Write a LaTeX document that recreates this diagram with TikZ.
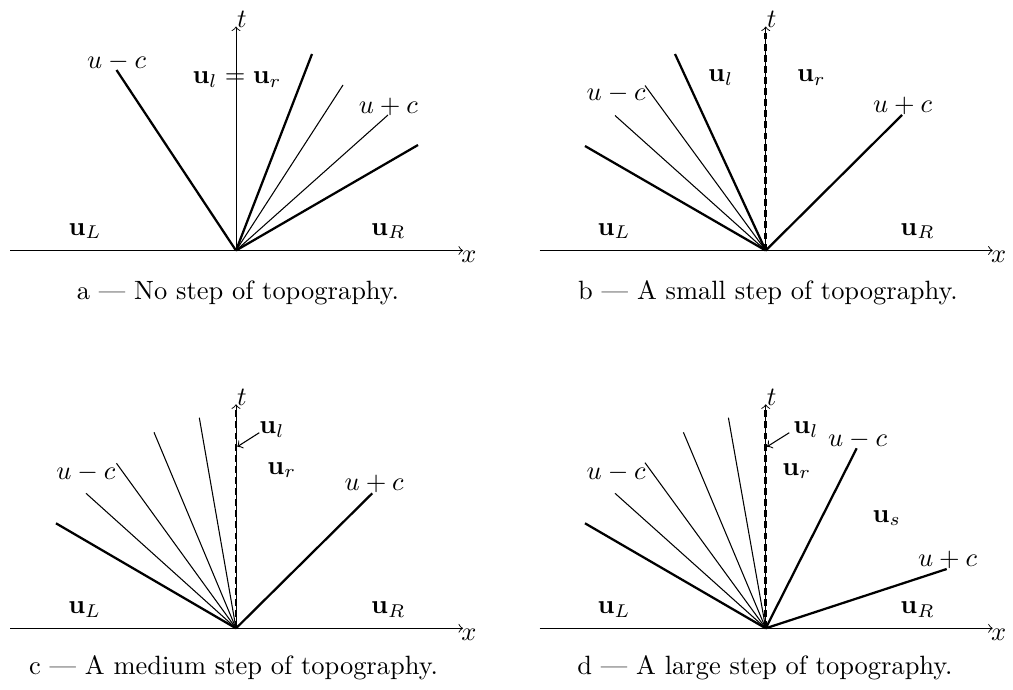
\documentclass[tikz,border=0pt]{standalone}
\usepackage{amsmath}
\begin{document}
\begin{tikzpicture}[x=0.378pt,y=-0.378pt,
  axis/.style={line width=0.35pt,->},
  wave/.style={line width=0.85pt},
  fan/.style={line width=0.4pt},
  contact/.style={line width=1.1pt,dash pattern=on 2.6pt off 1.6pt},
  lab/.style={anchor=base,inner sep=0pt},
  ptr/.style={line width=0.4pt,->}]
\useasboundingbox (0,0) rectangle (1013,690);

% ---------------- panel a ----------------
\begin{scope}[shift={(236,250.5)}]
  \coordinate (aO) at (0,0);
  \coordinate (aXl) at (-226,0); \coordinate (aXr) at (227,0);
  \coordinate (aT) at (0,-224);
  \draw[axis] (aXl) -- (aXr);
  \draw[axis] (aO) -- (aT);
  \coordinate (aE1) at (-119.5,-180.5);
  \coordinate (aE2) at (76,-196.5);
  \coordinate (aE3) at (107,-165.5);
  \coordinate (aE4) at (152,-135.5);
  \coordinate (aE5) at (182,-105.5);
  \draw[wave] (aO) -- (aE1);
  \draw[wave] (aO) -- (aE2);
  \draw[fan] (aO) -- (aE3);
  \draw[fan] (aO) -- (aE4);
  \draw[wave] (aO) -- (aE5);
  \node[lab] (at) at (6,-223) {$t$};
  \node[lab] (ax) at (233,12) {$x$};
\end{scope}
\node[lab] (auc) at (116.5,68.3) {$u-c$};
\node[lab] (aulr) at (237,83.3) {$\mathbf{u}_l=\mathbf{u}_r$};
\node[lab] (aupc) at (388.3,113.3) {$u+c$};
\node[lab] (auL) at (85,235) {$\mathbf{u}_L$};
\node[lab] (auR) at (388.3,235) {$\mathbf{u}_R$};
\node[lab] (acap) at (238,299.3) {a --- No step of topography.};

% ---------------- panel b ----------------
\begin{scope}[shift={(765.7,250.5)}]
  \coordinate (bO) at (0,0);
  \coordinate (bXl) at (-226,0); \coordinate (bXr) at (227,0);
  \coordinate (bT) at (0,-224); \coordinate (bD) at (0,-218);
  \draw[axis] (bXl) -- (bXr);
  \draw[axis] (bO) -- (bT);
  \draw[contact] (bO) -- (bD);
  \coordinate (bE1) at (-180.7,-104.5);
  \coordinate (bE2) at (-150.7,-135);
  \coordinate (bE3) at (-120.7,-165);
  \coordinate (bE4) at (-90.7,-196.5);
  \coordinate (bE5) at (136.3,-135.5);
  \draw[wave] (bO) -- (bE1);
  \draw[fan] (bO) -- (bE2);
  \draw[fan] (bO) -- (bE3);
  \draw[wave] (bO) -- (bE4);
  \draw[wave] (bO) -- (bE5);
  \node[lab] (bt) at (6,-223) {$t$};
  \node[lab] (bx) at (233,12) {$x$};
\end{scope}
\node[lab] (buc) at (616.2,100.7) {$u-c$};
\node[lab] (bul) at (720.7,81.7) {$\mathbf{u}_l$};
\node[lab] (bur) at (811.3,81.7) {$\mathbf{u}_r$};
\node[lab] (bupc) at (902.5,112.7) {$u+c$};
\node[lab] (buL) at (614,235) {$\mathbf{u}_L$};
\node[lab] (buR) at (917.5,235) {$\mathbf{u}_R$};
\node[lab] (bcap) at (768,299.3) {b --- A small step of topography.};

% ---------------- panel c ----------------
\begin{scope}[shift={(236,628.3)}]
  \coordinate (cO) at (0,0);
  \coordinate (cXl) at (-226,0); \coordinate (cXr) at (227,0);
  \coordinate (cT) at (0,-224); \coordinate (cD) at (0,-218);
  \draw[axis] (cXl) -- (cXr);
  \draw[axis] (cO) -- (cT);
  \draw[contact] (cO) -- (cD);
  \coordinate (cE1) at (-180,-105);
  \coordinate (cE2) at (-150,-135);
  \coordinate (cE3) at (-119.5,-165);
  \coordinate (cE4) at (-82,-196);
  \coordinate (cE5) at (-36.7,-210.6);
  \coordinate (cE6) at (136.3,-135);
  \draw[wave] (cO) -- (cE1);
  \draw[fan] (cO) -- (cE2);
  \draw[fan] (cO) -- (cE3);
  \draw[fan] (cO) -- (cE4);
  \draw[fan] (cO) -- (cE5);
  \draw[wave] (cO) -- (cE6);
  \coordinate (cP) at (1.3,-181.6);
  \node[lab] (ct) at (6,-223) {$t$};
  \node[lab] (cx) at (233,12) {$x$};
\end{scope}
\node[lab] (cuc) at (85.8,479.3) {$u-c$};
\node[lab] (cul) at (272,433.3) {$\mathbf{u}_l$};
\node[lab] (cur) at (281.8,474) {$\mathbf{u}_r$};
\node[lab] (cupc) at (374.2,490) {$u+c$};
\node[lab] (cuL) at (84.7,613.3) {$\mathbf{u}_L$};
\node[lab] (cuR) at (388.3,613.3) {$\mathbf{u}_R$};
\node[lab] (ccap) at (233.5,674.3) {c --- A medium step of topography.};
\coordinate (cS) at (259.3,432.7);
\draw[ptr] (cS) -- (cP);

% ---------------- panel d ----------------
\begin{scope}[shift={(765.7,628.3)}]
  \coordinate (dO) at (0,0);
  \coordinate (dXl) at (-226,0); \coordinate (dXr) at (227,0);
  \coordinate (dT) at (0,-224); \coordinate (dD) at (0,-218);
  \draw[axis] (dXl) -- (dXr);
  \draw[axis] (dO) -- (dT);
  \draw[contact] (dO) -- (dD);
  \coordinate (dE1) at (-180.7,-105);
  \coordinate (dE2) at (-150.7,-135);
  \coordinate (dE3) at (-120.7,-165.6);
  \coordinate (dE4) at (-82.3,-196);
  \coordinate (dE5) at (-37.3,-210.6);
  \coordinate (dE6) at (91,-180);
  \coordinate (dE7) at (181,-59.3);
  \draw[wave] (dO) -- (dE1);
  \draw[fan] (dO) -- (dE2);
  \draw[fan] (dO) -- (dE3);
  \draw[fan] (dO) -- (dE4);
  \draw[fan] (dO) -- (dE5);
  \draw[wave] (dO) -- (dE6);
  \draw[wave] (dO) -- (dE7);
  \coordinate (dP) at (1.3,-181.6);
  \node[lab] (dt) at (6,-223) {$t$};
  \node[lab] (dx) at (233,12) {$x$};
\end{scope}
\node[lab] (ducL) at (616.2,479.3) {$u-c$};
\node[lab] (dul) at (806,433.3) {$\mathbf{u}_l$};
\node[lab] (dur) at (796.7,475) {$\mathbf{u}_r$};
\node[lab] (ducR) at (857.5,446.7) {$u-c$};
\node[lab] (dus) at (886.7,522) {$\mathbf{u}_s$};
\node[lab] (dupc) at (947.5,566.7) {$u+c$};
\node[lab] (duL) at (614,613.3) {$\mathbf{u}_L$};
\node[lab] (duR) at (917.5,613.3) {$\mathbf{u}_R$};
\node[lab] (dcap) at (765,674.3) {d --- A large step of topography.};
\coordinate (dS) at (789.3,432.7);
\draw[ptr] (dS) -- (dP);
\end{tikzpicture}
\end{document}
